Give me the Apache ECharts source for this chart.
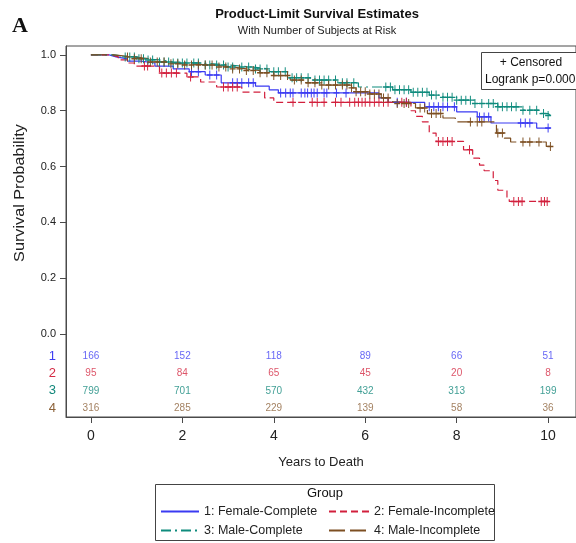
<!DOCTYPE html>
<html><head><meta charset="utf-8">
<script src="https://cdn.jsdelivr.net/npm/echarts@6/dist/echarts.min.js"></script>
<style>html,body{margin:0;padding:0;background:#fff}#c{width:576px;height:543px}</style>
</head><body><div id="c"></div>
<script>
// ---------------- data ----------------
const groupNames = ['1: Female-Complete', '2: Female-Incomplete', '3: Male-Complete', '4: Male-Incomplete'];

// Kaplan-Meier steps: [time (years), survival after the event]; last point = end of follow-up
const steps1 = [[0,1],[0.4,0.993],[0.55,0.986],[0.8,0.978],[1.1,0.971],[1.4,0.96],[1.8,0.95],[2.15,0.94],[2.5,0.928],[2.85,0.9],[3.6,0.888],[3.9,0.875],[4.1,0.864],[6.3,0.846],[6.5,0.83],[7.3,0.814],[8.0,0.796],[8.45,0.778],[8.75,0.756],[9.75,0.738],[10.05,0.738]];
const steps2 = [[0,1],[0.45,0.993],[0.6,0.982],[0.8,0.971],[0.95,0.96],[1.5,0.935],[2.1,0.921],[2.4,0.903],[2.75,0.885],[3.3,0.867],[3.8,0.846],[4.0,0.83],[7.0,0.80],[7.1,0.78],[7.25,0.76],[7.4,0.72],[7.55,0.69],[8.15,0.66],[8.35,0.63],[8.5,0.605],[8.6,0.585],[8.8,0.55],[8.9,0.515],[9.1,0.485],[9.15,0.475],[10.0,0.475]];
const steps3 = [[0,1],[0.5,0.996],[0.7,0.993],[1.0,0.986],[1.2,0.982],[1.5,0.975],[1.8,0.971],[2.4,0.964],[3.0,0.957],[3.5,0.95],[3.9,0.94],[4.3,0.918],[4.8,0.91],[5.4,0.9],[5.85,0.885],[6.6,0.875],[7.0,0.866],[7.4,0.856],[7.7,0.848],[8.0,0.838],[8.4,0.826],[8.9,0.814],[9.45,0.802],[9.8,0.79],[10.0,0.783],[10.05,0.783]];
const steps4 = [[0,1],[0.5,0.993],[0.9,0.986],[1.3,0.975],[1.7,0.968],[2.0,0.964],[2.7,0.957],[3.1,0.95],[3.4,0.944],[3.7,0.936],[4.0,0.926],[4.36,0.91],[4.7,0.9],[5.05,0.892],[5.7,0.882],[5.8,0.868],[6.1,0.86],[6.35,0.846],[6.6,0.832],[6.7,0.826],[7.1,0.81],[7.36,0.79],[7.7,0.774],[7.97,0.76],[8.87,0.72],[9.04,0.702],[9.18,0.688],[9.96,0.672],[10.05,0.672]];

// censoring times (years)
const censor1 = [2.2,2.35,2.6,2.75,3.1,3.2,3.3,3.45,3.55,4.15,4.26,4.36,4.42,4.6,4.68,4.74,4.82,4.88,4.95,5.1,5.16,5.37,5.58,6.7,6.9,7.4,7.5,7.6,7.7,7.8,7.95,8.5,8.6,8.7,9.4,9.5,9.6,10.0];
const censor2 = [1.17,1.24,1.55,1.65,1.76,1.87,2.18,2.9,3.0,3.1,3.2,4.42,4.84,4.95,5.1,5.35,5.47,5.66,5.77,5.85,5.93,6.0,6.1,6.2,6.3,6.4,6.5,6.8,6.9,7.6,7.7,7.8,7.9,8.28,9.25,9.35,9.43,9.85,9.92,9.98];
const censor3 = [0.75,0.85,0.95,1.05,1.15,1.25,1.35,1.5,1.6,1.7,1.8,1.9,2.0,2.1,2.25,2.35,2.5,2.6,2.75,2.9,3.0,3.1,3.3,3.45,3.6,3.7,3.85,4.0,4.1,4.25,4.4,4.5,4.6,4.75,4.9,5.0,5.1,5.2,5.35,5.5,5.6,5.75,6.45,6.55,6.65,6.75,6.85,6.95,7.05,7.15,7.25,7.35,7.45,7.55,7.7,7.8,7.9,8.0,8.1,8.2,8.3,8.4,8.55,8.7,8.8,8.9,9.0,9.1,9.2,9.3,9.45,9.6,9.75,9.9,10.0];
const censor4 = [0.8,0.95,1.1,1.3,1.45,1.6,1.75,1.9,2.05,2.2,2.35,2.5,2.65,2.8,2.95,3.1,3.25,3.4,3.55,3.7,3.85,4.0,4.15,4.3,4.45,4.6,4.75,4.9,5.05,5.2,5.35,5.5,5.6,5.7,5.8,5.9,6.0,6.1,6.2,6.3,6.4,6.5,6.7,6.85,6.95,7.2,7.3,7.45,7.55,7.65,8.3,8.45,8.55,8.9,9.0,9.45,9.6,9.8,10.05];

// number of subjects at risk
const riskTimes = [0, 2, 4, 6, 8, 10];
const risk1 = [166, 152, 118, 89, 66, 51];
const risk2 = [95, 84, 65, 45, 20, 8];
const risk3 = [799, 701, 570, 432, 313, 199];
const risk4 = [316, 285, 229, 139, 58, 36];

const yTicks = [0, 0.2, 0.4, 0.6, 0.8, 1.0];
const xTicks = [0, 2, 4, 6, 8, 10];

// ---------------- styling / layout ----------------
const lineColors = ['#3a3af2', '#d21f3c', '#0f8b7d', '#7d4f22'];
const riskColors = ['#3e3ef2', '#d42a44', '#11877a', '#8c6239'];
const dashes = ['solid', [7, 4], [10, 4, 2, 4], [16, 5]];
const riskRowY = [-0.079, -0.140, -0.204, -0.265]; // vertical slots of the at-risk rows
const plusPath = 'path://M4.2,0H5.8V4.2H10V5.8H5.8V10H4.2V5.8H0V4.2H4.2Z';

const allSteps = [steps1, steps2, steps3, steps4];
const allCensor = [censor1, censor2, censor3, censor4];
const allRisk = [risk1, risk2, risk3, risk4];

function survAt(steps, t) {
  let s = steps[0][1];
  for (const p of steps) { if (p[0] <= t) s = p[1]; }
  return s;
}

const series = [];
allSteps.forEach((st, i) => {
  series.push({
    name: groupNames[i], type: 'line', step: 'end', data: st,
    symbol: 'none', showSymbol: false, z: 3,
    lineStyle: { color: lineColors[i], width: 1.2, type: dashes[i] },
    itemStyle: { color: lineColors[i] }
  });
});
allCensor.forEach((cs, i) => {
  series.push({
    name: 'censor' + (i + 1), type: 'scatter', z: 4,
    symbol: plusPath, symbolSize: [6, 9],
    itemStyle: { color: lineColors[i], opacity: 1 },
    data: cs.map(t => [t, survAt(allSteps[i], t)])
  });
});
allRisk.forEach((rk, i) => {
  series.push({
    name: 'risk' + (i + 1), type: 'scatter', symbolSize: 0, z: 5,
    data: riskTimes.map((t, j) => [t, riskRowY[i], rk[j]]),
    label: {
      show: true, position: 'inside',
      formatter: p => String(p.data[2]),
      color: riskColors[i], fontSize: 10,
      fontFamily: '"Liberation Sans Narrow", "Arial Narrow", "Liberation Sans", Arial, sans-serif'
    }
  });
});

const rowLabelVals = riskRowY.slice();
const chart = echarts.init(document.getElementById('c'), null, { renderer: 'canvas' });
chart.setOption({
  animation: false,
  backgroundColor: '#fff',
  textStyle: { fontFamily: '"Liberation Sans", Arial, sans-serif' },
  grid: { left: 66, top: 46, width: 532, height: 371, show: true, borderColor: '#4a4a4a', borderWidth: 1, backgroundColor: 'transparent' },
  xAxis: {
    type: 'value', min: -0.545, max: 10.61,
    axisLine: { show: true, onZero: false, lineStyle: { color: '#4a4a4a', width: 1 } },
    axisTick: { show: true, customValues: xTicks, length: 6, lineStyle: { color: '#4a4a4a' } },
    axisLabel: { customValues: xTicks, fontSize: 14, color: '#222', margin: 12, formatter: v => String(v) },
    splitLine: { show: false },
    name: 'Years to Death', nameLocation: 'middle', nameGap: 39,
    nameTextStyle: { fontSize: 13, color: '#222' }
  },
  yAxis: {
    type: 'value', min: -0.2975, max: 1.032,
    axisLine: { show: true, onZero: false, lineStyle: { color: '#4a4a4a', width: 1 } },
    axisTick: { show: true, customValues: yTicks, length: 6, lineStyle: { color: '#4a4a4a' } },
    axisLabel: {
      customValues: yTicks.concat(rowLabelVals), margin: 10, fontSize: 11, color: '#222',
      formatter: v => {
        for (let k = 0; k < rowLabelVals.length; k++) {
          if (Math.abs(v - rowLabelVals[k]) < 1e-6) return '{r' + k + '|' + (k + 1) + '}';
        }
        return v.toFixed(1);
      },
      rich: {
        r0: { color: riskColors[0], fontSize: 13 },
        r1: { color: riskColors[1], fontSize: 13 },
        r2: { color: riskColors[2], fontSize: 13 },
        r3: { color: riskColors[3], fontSize: 13 }
      }
    },
    splitLine: { show: false }
  },
  legend: [
    {
      data: [groupNames[0], groupNames[2]], orient: 'vertical', left: 160, top: 505,
      itemWidth: 38, itemHeight: 12, itemGap: 6, padding: 0,
      itemStyle: { opacity: 0 },
      textStyle: { fontSize: 12.5, color: '#222' }, selectedMode: false
    },
    {
      data: [groupNames[1], groupNames[3]], orient: 'vertical', left: 328, top: 505,
      itemWidth: 40, itemHeight: 12, itemGap: 6, padding: 0,
      itemStyle: { opacity: 0 },
      textStyle: { fontSize: 12.5, color: '#222' }, selectedMode: false
    }
  ],
  graphic: [
    { type: 'text', left: 12, top: 15, style: { text: 'A', font: 'bold 22px "Liberation Serif", "Times New Roman", serif', fill: '#111' } },
    { type: 'text', x: 317, y: 14, style: { text: 'Product-Limit Survival Estimates', font: 'bold 13px "Liberation Sans", Arial, sans-serif', fill: '#111', textAlign: 'center', textVerticalAlign: 'middle' } },
    { type: 'text', x: 317, y: 31, style: { text: 'With Number of Subjects at Risk', font: '11px "Liberation Sans", Arial, sans-serif', fill: '#222', textAlign: 'center', textVerticalAlign: 'middle' } },
    { type: 'text', x: 20, y: 193, rotation: Math.PI / 2, scaleX: 1.08, style: { text: 'Survival Probability', font: '15px "Liberation Sans", Arial, sans-serif', fill: '#222', textAlign: 'center', textVerticalAlign: 'middle' } },
    { type: 'rect', shape: { x: 481.5, y: 52.5, width: 120, height: 37 }, style: { fill: '#fff', stroke: '#444', lineWidth: 1 }, z: 10 },
    { type: 'text', x: 531, y: 63, z: 11, style: { text: '+ Censored', font: '12px "Liberation Sans", Arial, sans-serif', fill: '#111', textAlign: 'center', textVerticalAlign: 'middle' } },
    { type: 'text', x: 485, y: 80, z: 11, style: { text: 'Logrank p=0.0008', font: '12px "Liberation Sans", Arial, sans-serif', fill: '#111', textAlign: 'left', textVerticalAlign: 'middle' } },
    { type: 'rect', shape: { x: 155.5, y: 484.5, width: 339, height: 56 }, style: { fill: 'none', stroke: '#444', lineWidth: 1 } },
    { type: 'text', x: 325, y: 493, style: { text: 'Group', font: '13px "Liberation Sans", Arial, sans-serif', fill: '#111', textAlign: 'center', textVerticalAlign: 'middle' } }
  ],
  series: series
});
</script>
</body></html>
